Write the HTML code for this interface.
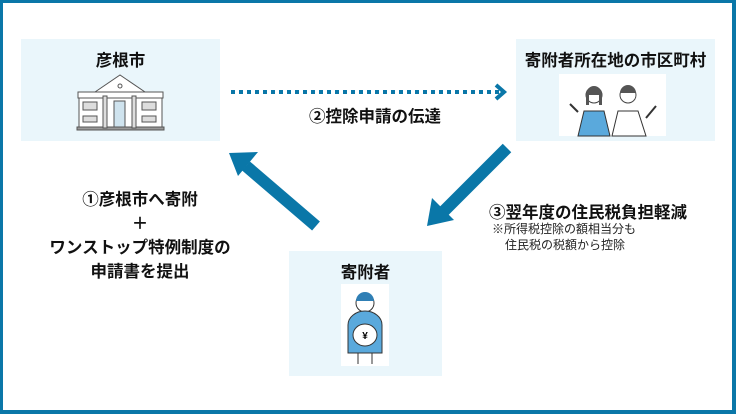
<!DOCTYPE html>
<html><head><meta charset="utf-8"><style>
*{margin:0;padding:0;box-sizing:border-box}
body{width:736px;height:414px;background:#fff;position:relative;overflow:hidden;font-family:"Liberation Sans","Noto Sans CJK JP",sans-serif;color:#111}
.frame{position:absolute;left:0;top:0;width:736px;height:414px;border:3px solid #0a77a8;border-right-width:4px;border-bottom-width:4px}
.box{position:absolute;background:#eaf6fb}
.t{position:absolute;font-weight:bold;font-size:16.5px;white-space:nowrap;text-align:center}
.s{position:absolute;font-size:12px;white-space:nowrap;color:#222}
</style></head><body>
<div class="frame"></div>
<div class="box" style="left:21px;top:39px;width:199px;height:102px"></div>
<div class="box" style="left:516px;top:39px;width:199px;height:102px"></div>
<div class="box" style="left:289px;top:251px;width:153px;height:125px"></div>
<div class="t" style="left:21px;top:47px;width:199px">彦根市</div>
<div class="t" style="left:516px;top:47px;width:199px">寄附者所在地の市区町村</div>
<div class="t" style="left:289px;top:259px;width:153px">寄附者</div>
<div class="t" style="left:285px;top:103px;width:180px">②控除申請の伝達</div>
<div class="t" style="left:10px;top:188px;width:260px;line-height:24px">①彦根市へ寄附<br>＋<br>ワンストップ特例制度の<br>申請書を提出</div>
<div class="t" style="left:489px;top:199px;text-align:left">③翌年度の住民税負担軽減</div>
<div class="s" style="left:492px;top:220px">※所得税控除の額相当分も</div>
<div class="s" style="left:505px;top:236px">住民税の税額から控除</div>
<svg width="736" height="414" style="position:absolute;left:0;top:0">
<line x1="231" y1="92" x2="500" y2="92" stroke="#0a77a8" stroke-width="4" stroke-dasharray="4,4"/>
<polyline points="496,85 504,92 496,99" fill="none" stroke="#0a77a8" stroke-width="4"/>
<line x1="316" y1="226" x2="246" y2="166" stroke="#0a77a8" stroke-width="12"/>
<polygon points="229,153 258,152 238,176" fill="#0a77a8"/>
<line x1="507" y1="148" x2="442" y2="213" stroke="#0a77a8" stroke-width="12"/>
<polygon points="427,226 432,198 454,220" fill="#0a77a8"/>
<g fill="#fff" stroke="#555" stroke-width="1">
<polygon points="95,92 120,75 145,92"/>
<rect x="78" y="92" width="85" height="6"/>
<rect x="79" y="98" width="83" height="30"/>
<rect x="77" y="127" width="87" height="3" fill="#999"/>
<rect x="103" y="96" width="4" height="32" fill="#ddd"/>
<rect x="132" y="96" width="4" height="32" fill="#ddd"/>
<rect x="114" y="101" width="11" height="26" fill="#cfe3ee"/>
<rect x="83" y="102" width="14" height="8" fill="#ddd"/><rect x="83" y="116" width="14" height="6" fill="#ddd"/>
<rect x="142" y="102" width="14" height="8" fill="#ddd"/><rect x="142" y="116" width="14" height="6" fill="#ddd"/>
<circle cx="120" cy="86" r="2"/>
</g>
<rect x="559" y="74" width="107" height="62" fill="#fff"/>
<circle cx="594" cy="95" r="8" fill="#fff" stroke="#444"/><path d="M586,95 a8,9 0 0 1 16,0 l0,10 -3,0 0,-10 -10,0 0,10 -3,0z" fill="#555"/>
<path d="M578,136 l6,-25 20,0 6,25z" fill="#5aa9dc" stroke="#333"/>
<circle cx="628" cy="95" r="8" fill="#fff" stroke="#444"/><path d="M620,93 a8,8 0 0 1 16,0z" fill="#555"/>
<path d="M612,136 l6,-25 20,0 8,25z" fill="#fff" stroke="#333"/>
<path d="M578,112 l-8,-8" stroke="#333" stroke-width="2"/><path d="M646,118 l10,-12" stroke="#333" stroke-width="2"/>
<rect x="341" y="284" width="48" height="82" fill="#fff"/>
<circle cx="365" cy="303" r="9" fill="#fff" stroke="#333"/><path d="M356,301 a9,9 0 0 1 18,0z" fill="#2f7fb5"/>
<path d="M348,353 l0,-28 a17,14 0 0 1 34,0 l0,28z" fill="#5aa9dc" stroke="#333"/>
<ellipse cx="365" cy="335" rx="12" ry="11" fill="#fff" stroke="#333"/>
<text x="365" y="339" font-size="10" text-anchor="middle" font-weight="bold">¥</text>
<line x1="358" y1="353" x2="358" y2="364" stroke="#333"/><line x1="372" y1="353" x2="372" y2="364" stroke="#333"/>
</svg>
</body></html>
